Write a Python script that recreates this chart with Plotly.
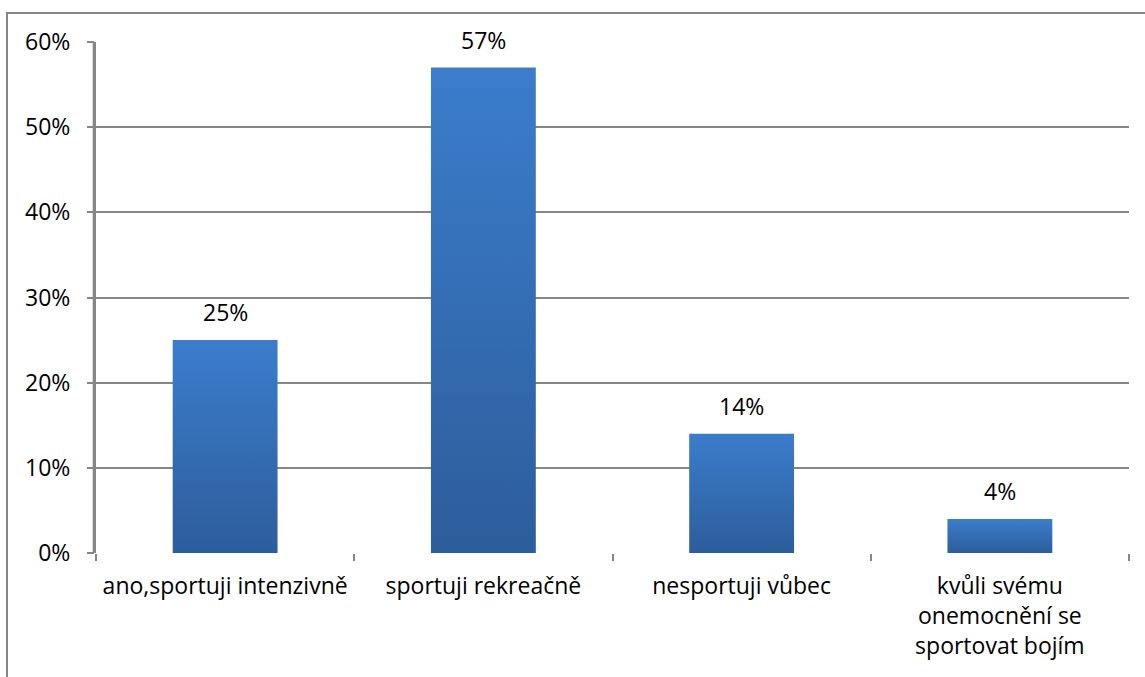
import plotly.graph_objects as go

# Survey answers and their shares (%)
categories = [
    "ano,sportuji intenzivně",
    "sportuji rekreačně",
    "nesportuji vůbec",
    "kvůli svému<br>onemocnění se<br>sportovat bojím",
]
values = [25, 57, 14, 4]
y_ticks = [0, 10, 20, 30, 40, 50, 60]
y_tick_labels = [f"{v}%" for v in y_ticks]

FONT = "Open Sans"
FS = 23
GRID = "#868686"
BAR_TOP = "#3b7dcc"
BAR_BOTTOM = "#2d5d9b"
HALF_W = 0.203

fig = go.Figure()

# Each bar is a filled rectangle with its own vertical gradient
for i, v in enumerate(values):
    fig.add_trace(go.Scatter(
        x=[i - HALF_W, i + HALF_W, i + HALF_W, i - HALF_W, i - HALF_W],
        y=[0, 0, v, v, 0],
        mode="lines",
        line=dict(width=0),
        fill="toself",
        fillgradient=dict(
            type="vertical",
            colorscale=[[0, BAR_BOTTOM], [1, BAR_TOP]],
            start=0,
            stop=v,
        ),
        hoverinfo="skip",
        showlegend=False,
    ))
    fig.add_annotation(
        x=i, y=v, text=f"{v}%", showarrow=False,
        yanchor="bottom", yshift=10,
        font=dict(family=FONT, size=FS, color="#000000"),
    )

# Invisible trace on the overlay axis so its boundary ticks render
fig.add_trace(go.Scatter(x=[-0.5, 3.5], y=[0, 0], xaxis="x2", mode="markers",
                         marker=dict(opacity=0), hoverinfo="skip", showlegend=False))

fig.update_layout(
    width=1145, height=677,
    margin=dict(l=96, r=16, t=42, b=124),
    paper_bgcolor="white", plot_bgcolor="white",
    font=dict(family=FONT, size=FS, color="#000000"),
    xaxis=dict(
        range=[-0.5, 3.5], tickmode="array",
        tickvals=list(range(len(categories))), ticktext=categories,
        ticks="", showgrid=False, zeroline=False, showline=False,
        tickfont=dict(family=FONT, size=FS, color="#000000"),
        ticklabelstandoff=17,
    ),
    xaxis2=dict(
        overlaying="x", range=[-0.5, 3.5], tickmode="array",
        tickvals=[-0.5, 0.5, 1.5, 2.5, 3.5], showticklabels=False,
        ticks="outside", ticklen=7, tickwidth=2, tickcolor=GRID,
        showgrid=False, zeroline=False, showline=False, side="bottom",
    ),
    yaxis=dict(
        range=[0, 60], tickmode="array", tickvals=y_ticks, ticktext=y_tick_labels,
        showgrid=True, gridcolor=GRID, gridwidth=1.5,
        zeroline=False, showline=True, linecolor=GRID, linewidth=2,
        ticks="outside", ticklen=7, tickwidth=2, tickcolor=GRID,
        tickfont=dict(family=FONT, size=FS, color="#000000"),
        ticklabelstandoff=12,
    ),
)

# Vertical value-axis line along the left edge of the plot area
fig.add_shape(type="line", xref="paper", yref="paper",
              x0=-0.002, x1=-0.002, y0=0, y1=1,
              line=dict(color=GRID, width=2.5), layer="above")

# Outer chart frame (partly outside the visible page)
fig.add_shape(type="rect", xref="paper", yref="paper",
              x0=(7 - 96) / 1033, x1=(1160 - 96) / 1033,
              y0=(553 - 700) / 511, y1=(553 - 13) / 511,
              line=dict(color=GRID, width=2), layer="below")

fig.write_html("out.html")
